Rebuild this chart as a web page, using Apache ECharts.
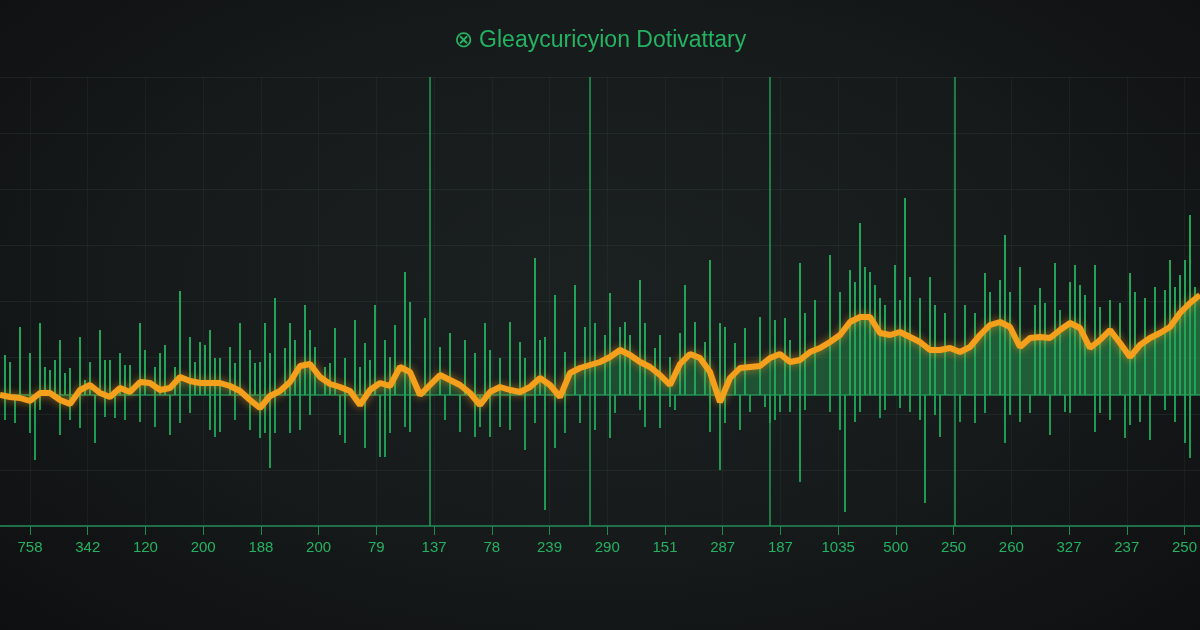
<!DOCTYPE html>
<html lang="en">
<head>
<meta charset="utf-8">
<title>Gleaycuricyion Dotivattary</title>
<script src="https://cdn.jsdelivr.net/npm/echarts@6/dist/echarts.min.js"></script>
<style>
html, body { margin: 0; padding: 0; background: #111314; }
#main {
    width: 1200px; height: 630px;
    background: radial-gradient(ellipse at 50% 45%, #1b2021 0%, #161a1b 55%, #0e0f10 100%);
}
</style>
</head>
<body>
<div id="main"></div>
<script type="text/javascript">
// bottom tick labels
var tickLabels = ['758', '342', '120', '200', '188', '200', '79', '137', '78', '239', '290',
                  '151', '287', '187', '1035', '500', '250', '260', '327', '237', '250'];

// orange trace, one sample every 2 steps (t = 0 .. 240)
var trace = [
    0, -2, -3, -6, 2, 2, -5, -9, 5, 10,
    2, -2, 7, 3, 13, 12, 5, 7, 18, 14,
    12, 12, 12, 9, 4, -5, -13, -1, 4, 13,
    29, 31, 18, 11, 8, 4, -10, 5, 12, 9,
    28, 23, 0, 10, 20, 15, 10, 2, -10, 3,
    8, 5, 3, 8, 17, 10, -2, 22, 27, 30,
    33, 38, 45, 40, 33, 28, 20, 10, 31, 41,
    37, 23, -7, 17, 27, 28, 29, 37, 41, 33,
    35, 43, 47, 53, 60, 73, 78, 78, 62, 60,
    63, 58, 53, 45, 45, 47, 43, 48, 60, 70,
    73, 68, 48, 57, 58, 57, 65, 72, 67, 47,
    55, 65, 52, 38, 50, 57, 62, 68, 82, 92,
    100
];

// green spikes above the baseline [t, height]
var spikesUp = [
    [1, 40], [2, 33], [4, 68], [6, 42], [8, 72], [9, 28], [10, 25], [11, 35], [12, 55], [13, 22],
    [14, 27], [16, 58], [17, 15], [18, 33], [20, 65], [21, 35], [22, 35], [24, 42], [25, 30], [26, 30],
    [28, 72], [29, 45], [31, 28], [32, 42], [33, 50], [35, 28], [36, 104], [38, 58], [39, 33], [40, 53],
    [41, 50], [42, 65], [43, 37], [44, 37], [46, 48], [47, 32], [48, 72], [50, 45], [51, 32], [52, 33],
    [53, 72], [54, 42], [55, 97], [57, 47], [58, 72], [59, 55], [60, 27], [61, 90], [62, 65], [63, 48],
    [65, 28], [66, 32], [67, 67], [69, 37], [71, 75], [72, 28], [73, 52], [74, 35], [75, 90], [77, 55],
    [78, 38], [79, 70], [81, 123], [82, 93], [85, 77], [88, 48], [90, 62], [93, 55], [95, 42], [97, 72],
    [98, 45], [100, 37], [102, 73], [104, 53], [105, 37], [107, 137], [108, 55], [109, 58], [111, 100], [113, 43],
    [115, 110], [117, 68], [119, 72], [121, 60], [122, 102], [124, 68], [125, 73], [126, 60], [128, 115], [129, 72],
    [131, 47], [132, 60], [134, 38], [136, 62], [137, 110], [139, 73], [141, 53], [142, 135], [144, 72], [145, 68],
    [147, 52], [149, 67], [152, 78], [155, 75], [157, 77], [158, 55], [160, 132], [161, 82], [163, 95], [166, 140],
    [168, 103], [170, 125], [171, 113], [172, 172], [173, 128], [174, 123], [175, 110], [176, 97], [177, 90], [179, 130],
    [180, 95], [181, 197], [182, 118], [184, 97], [186, 118], [187, 90], [189, 82], [193, 90], [195, 82], [197, 122],
    [198, 103], [200, 115], [201, 160], [202, 103], [204, 128], [207, 90], [208, 107], [209, 92], [211, 132], [212, 85],
    [214, 113], [215, 130], [216, 110], [217, 100], [219, 130], [220, 88], [222, 95], [224, 92], [226, 122], [227, 103],
    [229, 97], [231, 108], [233, 105], [234, 135], [235, 108], [236, 120], [237, 135], [238, 180], [239, 108]
];

// green spikes below the baseline [t, depth]
var spikesDown = [
    [1, -25], [3, -28], [6, -38], [7, -65], [8, -15], [12, -40], [14, -25], [16, -33], [19, -48], [21, -22],
    [23, -23], [25, -25], [28, -27], [31, -32], [34, -40], [36, -28], [38, -18], [42, -35], [43, -42], [44, -37],
    [47, -25], [50, -35], [52, -43], [53, -38], [54, -73], [55, -38], [58, -38], [60, -35], [62, -20], [68, -40],
    [69, -48], [73, -53], [76, -62], [77, -62], [78, -38], [81, -32], [82, -37], [89, -25], [92, -37], [95, -42],
    [96, -32], [98, -42], [100, -32], [102, -35], [105, -55], [107, -28], [109, -115], [111, -53], [113, -38], [116, -28],
    [119, -35], [122, -43], [123, -18], [128, -15], [129, -32], [132, -33], [134, -12], [135, -15], [142, -37], [144, -75],
    [145, -28], [148, -35], [150, -17], [153, -12], [154, -28], [155, -25], [156, -17], [158, -17], [160, -87], [161, -15],
    [166, -17], [168, -35], [169, -117], [171, -27], [172, -17], [176, -23], [177, -15], [180, -13], [182, -17], [184, -25],
    [185, -108], [187, -20], [188, -42], [192, -27], [195, -28], [197, -18], [201, -48], [202, -20], [204, -27], [206, -18],
    [210, -40], [213, -17], [214, -18], [219, -37], [220, -18], [222, -25], [225, -43], [226, -30], [228, -27], [230, -45],
    [233, -15], [235, -27], [237, -48], [238, -63]
];

// tall bright marker lines (t)
var markers = [86, 118, 154, 191];

var traceData = trace.map(function (v, i) { return [i * 2, v]; });

var myChart = echarts.init(document.getElementById('main'));

myChart.setOption({
    animation: false,
    backgroundColor: 'transparent',
    title: {
        text: '\u2297 Gleaycuricyion Dotivattary',
        left: 'center',
        top: 24,
        textStyle: {
            color: '#22b463',
            fontSize: 23,
            fontWeight: 'normal',
            fontFamily: 'Liberation Sans'
        }
    },
    grid: [
        { left: 0, right: 0, top: 77, bottom: 104 },
        { left: 30, right: 10, top: 77, bottom: 104 }
    ],
    xAxis: [
        {
            gridIndex: 0, type: 'value', min: 0, max: 240,
            axisLine: { show: true, onZero: false, lineStyle: { color: '#1f7048', width: 2 } },
            axisTick: { show: false }, axisLabel: { show: false }, splitLine: { show: false }
        },
        {
            gridIndex: 0, type: 'value', position: 'top', min: 0, max: 1,
            axisLine: { show: true, lineStyle: { color: '#1f7048', width: 2 } },
            axisTick: { show: false }, axisLabel: { show: false }, splitLine: { show: false }
        },
        {
            gridIndex: 1, type: 'category', data: tickLabels, boundaryGap: false,
            axisLine: { show: false },
            axisTick: { show: true, length: 9, lineStyle: { color: '#1f8a50' } },
            axisLabel: {
                color: '#22b362', fontSize: 15, margin: 14, interval: 0,
                fontFamily: 'Liberation Sans'
            },
            splitLine: { show: true, lineStyle: { color: 'rgba(90,130,110,0.10)' } }
        }
    ],
    yAxis: [
        { gridIndex: 0, type: 'value', min: -131, max: 318, show: false },
        {
            gridIndex: 0, type: 'value', min: 0, max: 8, interval: 1,
            axisLine: { show: false }, axisTick: { show: false }, axisLabel: { show: false },
            splitLine: { lineStyle: { color: 'rgba(90,130,110,0.14)' } }
        },
        { gridIndex: 1, type: 'value', show: false }
    ],
    series: [
        {
            // green fill under the trace
            type: 'line', xAxisIndex: 0, yAxisIndex: 0,
            data: traceData, showSymbol: false, silent: true,
            lineStyle: { width: 0, opacity: 0 },
            areaStyle: {
                color: new echarts.graphic.LinearGradient(0, 0, 1, 0, [
                    { offset: 0, color: 'rgba(38,130,70,0.28)' },
                    { offset: 0.5, color: 'rgba(40,150,80,0.55)' },
                    { offset: 1, color: 'rgba(45,165,85,0.80)' }
                ])
            },
            z: 1
        },
        {
            type: 'bar', xAxisIndex: 0, yAxisIndex: 0,
            data: spikesUp, barWidth: 2, barGap: '-100%',
            itemStyle: { color: '#22a458' },
            markLine: {
                silent: true,
                symbol: ['none', 'none'],
                label: { show: false },
                lineStyle: { color: '#1f9b55', width: 1.5, type: 'solid' },
                data: markers.map(function (t) { return { xAxis: t }; })
            },
            z: 2
        },
        {
            type: 'bar', xAxisIndex: 0, yAxisIndex: 0,
            data: spikesDown, barWidth: 2, barGap: '-100%',
            itemStyle: { color: '#1f9a52' },
            z: 2
        },
        {
            // orange trace
            type: 'line', xAxisIndex: 0, yAxisIndex: 0,
            data: traceData, showSymbol: false,
            lineStyle: {
                color: '#f5a01c', width: 6,
                shadowBlur: 8, shadowColor: 'rgba(245,160,28,0.6)'
            },
            z: 5
        }
    ]
});
</script>
</body>
</html>
